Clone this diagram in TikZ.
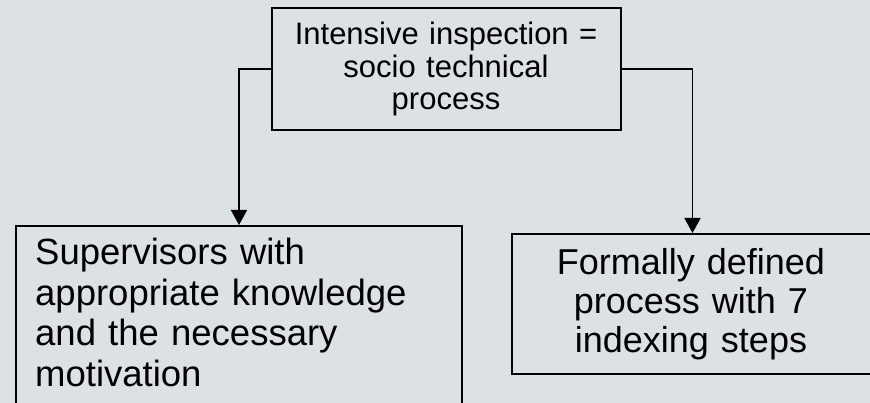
\documentclass[tikz,border=0pt]{standalone}
\usepackage{fontspec}
\setmainfont{Liberation Sans}
\usetikzlibrary{arrows.meta}
\definecolor{slide}{RGB}{220,225,229}
\begin{document}
\begin{tikzpicture}[x=1pt,y=-1pt,
  box/.style={draw=black, line width=2pt, fill=slide, inner sep=0pt, anchor=north west},
  txt/.style={inner sep=0pt, text=black},
  link/.style={draw=black, line width=1.5pt, -{Triangle[width=16pt,length=15pt]}}]
\useasboundingbox (0,0) rectangle (870,403);
\fill[slide] (0,0) rectangle (870,403);

% boxes
\node[box, minimum width=349pt, minimum height=122pt] (top) at (271,7) {};
\node[box, minimum width=446pt, minimum height=210pt] (left) at (15,225) {};
\node[box, minimum width=361pt, minimum height=140pt] (right) at (511,233) {};

% box texts
\node[txt, anchor=base, align=center, text width=340pt,
      font=\fontsize{31}{32.5}\selectfont] (toptext) at (446,45)
  {Intensive inspection =\\ socio technical\\ process};
\node[txt, anchor=base west, align=left, text width=425pt,
      font=\fontsize{36.5}{40.5}\selectfont] (lefttext) at (35,265)
  {Supervisors with\\ appropriate knowledge\\ and the necessary\\ motivation};
\node[txt, anchor=base, align=center, text width=345pt,
      font=\fontsize{36}{39}\selectfont] (righttext) at (691,275)
  {Formally defined\\ process with 7\\ indexing steps};

% connectors
\draw[link] (top.west) -| (left.north);
\draw[link] (top.east) -| (right.north);
\end{tikzpicture}
\end{document}
